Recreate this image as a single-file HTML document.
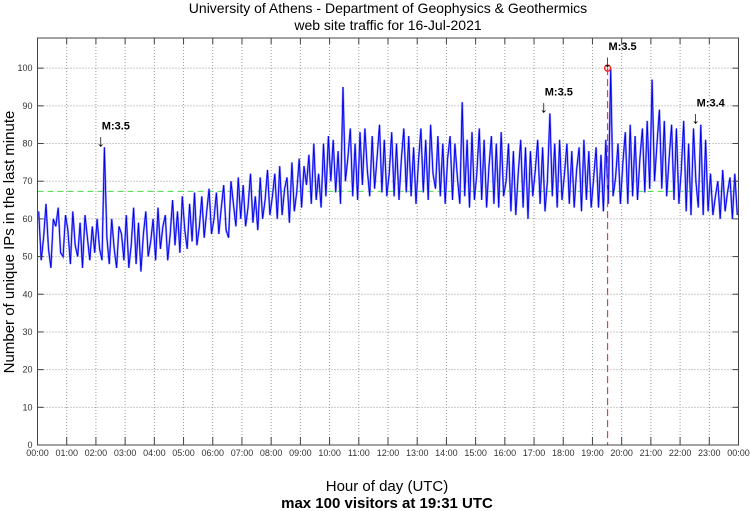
<!DOCTYPE html>
<html><head><meta charset="utf-8">
<style>
html,body{margin:0;padding:0;background:#fff;}
svg{display:block;font-family:"Liberation Sans",sans-serif;}
</style></head>
<body>
<svg id="chart" width="750" height="511" viewBox="0 0 750 511" xmlns="http://www.w3.org/2000/svg">
<text x="388" y="13" text-anchor="middle" font-size="14">University of Athens - Department of Geophysics &amp; Geothermics</text>
<text x="388" y="30" text-anchor="middle" font-size="14">web site traffic for 16-Jul-2021</text>
<g id="grid"></g>
<g id="series"></g>
<g id="axes"></g>
<text transform="translate(14,242) rotate(-90)" text-anchor="middle" font-size="15">Number of unique IPs in the last minute</text>
<text x="387" y="491" text-anchor="middle" font-size="15">Hour of day (UTC)</text>
<text x="387" y="508" text-anchor="middle" font-size="15" font-weight="bold">max 100 visitors at 19:31 UTC</text>
</svg>
<script>
// data: 5-minute samples
const values = [
62,49,55,64,52,47,60,58,63,51,50,61,
57,48,62,53,50,59,47,61,55,49,58,51,
60,52,49,79,55,48,60,52,47,58,56,49,
61,47,53,63,48,59,46,56,62,50,54,60,
49,63,52,58,61,49,56,65,53,62,51,66,
57,52,64,54,67,53,58,66,55,62,68,56,
60,67,56,63,69,57,55,70,64,58,71,60,
69,58,63,72,59,66,57,71,60,65,73,61,
66,72,60,74,61,68,71,59,75,62,67,76,
63,74,69,77,64,80,65,72,63,80,66,82,
70,81,67,78,64,95,70,76,84,66,80,65,
83,69,84,73,66,82,68,76,85,67,81,66,
72,83,66,80,65,76,84,67,82,66,79,64,
75,84,67,81,65,85,72,68,82,66,80,64,
76,82,65,80,71,64,91,66,81,63,83,65,
72,84,65,81,63,74,82,64,80,63,83,66,
70,80,62,78,61,72,81,63,79,60,78,66,
73,81,64,79,62,70,88,66,80,63,81,65,
72,80,64,78,63,73,79,62,81,65,78,63,
71,79,63,77,62,81,64,100,66,71,80,64,
75,83,64,85,66,82,65,76,84,67,86,68,
97,70,80,89,68,86,66,76,85,65,84,64,
73,86,62,80,61,84,70,63,85,61,81,62,
72,61,66,70,60,73,62,67,71,60,72,61
];
const sampleMinutes = 5;
const meanValue = 67.3;
const maxMinute = 19*60+31;
const maxValue = 100;
const yTicks = [0,10,20,30,40,50,60,70,80,90,100];
const xTickHours = [0,1,2,3,4,5,6,7,8,9,10,11,12,13,14,15,16,17,18,19,20,21,22,23,24];
const quakeLabels = ["M:3.5","M:3.5","M:3.5","M:3.4"];
const quakeMinutes = [130, 1040, 1171, 1352];
const quakeValues = [79, 88, 100, 85];

const L=37.5,R=738.5,T=38,B=445,YMAX=108;
const sx = m => L + (m/1440)*(R-L);
const sy = v => B - (v/YMAX)*(B-T);
const NS="http://www.w3.org/2000/svg";
function mk(tag,attrs,parent){const e=document.createElementNS(NS,tag);for(const k in attrs)e.setAttribute(k,attrs[k]);parent.appendChild(e);return e;}
const grid=document.getElementById('grid'),axes=document.getElementById('axes'),series=document.getElementById('series');

yTicks.forEach(v=>{
  if(v>0){const g=mk('line',{x1:L,x2:R,y1:sy(v),y2:sy(v),stroke:'#999999','stroke-dasharray':'1,2','stroke-width':1},grid);
  
  }
  const t=mk('text',{x:L-5,y:sy(v)+3,'text-anchor':'end','font-size':9,fill:'#333333'},axes);
  
  
  t.textContent=v;
  mk('line',{x1:L,x2:L+6,y1:sy(v),y2:sy(v),stroke:'#444444'},axes);
  mk('line',{x1:R,x2:R-6,y1:sy(v),y2:sy(v),stroke:'#444444'},axes);
});
xTickHours.forEach(h=>{
  const x=sx(h*60);
  if(h>0&&h<24){const g=mk('line',{x1:x,x2:x,y1:T,y2:B,stroke:'#999999','stroke-dasharray':'1,2','stroke-width':1},grid);
  
  }
  mk('line',{x1:x,x2:x,y1:B,y2:B-8,stroke:'#444444'},axes);
  mk('line',{x1:x,x2:x,y1:T,y2:T+6,stroke:'#444444'},axes);
  const t=mk('text',{x:x,y:B+11,'text-anchor':'middle','font-size':9,fill:'#333333'},axes);
  
  
  t.textContent=(h===24?'00':String(h).padStart(2,'0'))+':00';
});
const frame=mk('rect',{x:L,y:T,width:R-L,height:B-T,fill:'none',stroke:'#444444','stroke-width':1},axes);



const mean=mk('line',{x1:L,x2:R,y1:sy(meanValue),y2:sy(meanValue),stroke:'#44dd44','stroke-dasharray':'6,4','stroke-width':1},series);



const pts=values.map((v,i)=>sx(i*sampleMinutes+2.5).toFixed(1)+','+sy(v).toFixed(1)).join(' ');
const pl2=mk('polyline',{points:pts,fill:'none',stroke:'#8c8cff','stroke-width':2},series);


const pl=mk('polyline',{points:pts,fill:'none',stroke:'#0000ee','stroke-width':0.9},series);



const mx=mk('line',{x1:sx(maxMinute),x2:sx(maxMinute),y1:sy(maxValue),y2:B,stroke:'#ff3333','stroke-dasharray':'7,4','stroke-width':1.2},series);


const c=mk('circle',{cx:sx(maxMinute),cy:sy(maxValue),r:3,fill:'none',stroke:'#ff2222','stroke-width':1.4},series);



quakeLabels.forEach((lab,i)=>{
  const x=sx(quakeMinutes[i]),y=sy(quakeValues[i]);
  const a=mk('text',{x:x,y:y-1,'text-anchor':'middle','font-size':17},series);
  
  
  a.textContent='↓';
  const t=mk('text',{x:x+1,y:y-18,'font-size':11,'font-weight':'bold'},series);
  
  
  t.textContent=lab;
});
</script>
</body></html>
